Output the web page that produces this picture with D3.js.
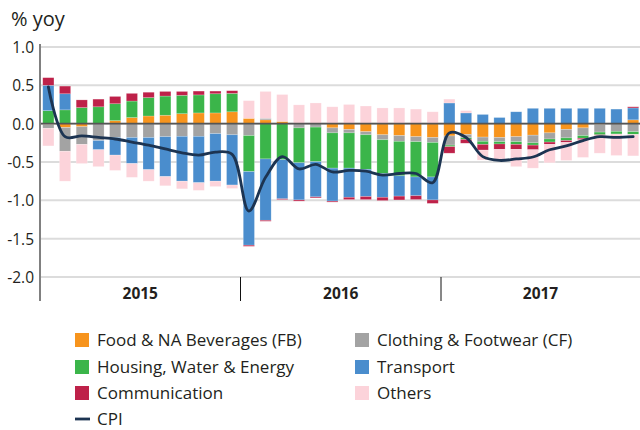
<!DOCTYPE html>
<html>
<head>
<meta charset="utf-8">
<script src="https://cdn.jsdelivr.net/npm/d3@7"></script>
<style>
  html, body { margin: 0; padding: 0; background: #fff; }
  svg { display: block; font-family: "Open Sans", "Noto Sans", sans-serif; }
</style>
</head>
<body>
<svg id="chart" width="640" height="430"></svg>
<script>
// ---------- data ----------
const years = ["2015", "2016", "2017"];
const months = [];
years.forEach(y => { for (let m = 1; m <= 12; m++) months.push(y + "-" + String(m).padStart(2, "0")); });

const seriesKeys = ["FB", "CF", "HWE", "TR", "COM", "OTH"];
const seriesLabels = ["Food & NA Beverages (FB)", "Clothing & Footwear (CF)", "Housing, Water & Energy", "Transport", "Communication", "Others"];

const fb  = [-0.01,-0.05,-0.04,0,0.04,0.08,0.10,0.11,0.13,0.14,0.14,0.155,
             0.07,0.05,0.03,0,0,-0.055,-0.075,-0.105,-0.145,-0.155,-0.17,-0.18,
             -0.16,-0.14,-0.175,-0.18,-0.17,-0.15,-0.12,-0.075,-0.055,-0.01,0,0.05];
const cf  = [-0.05,-0.31,-0.23,-0.22,-0.18,-0.18,-0.18,-0.17,-0.165,-0.165,-0.13,-0.145,
             -0.155,0.02,0,-0.055,-0.045,-0.065,-0.045,-0.04,-0.065,-0.075,-0.065,-0.065,
             -0.12,-0.045,-0.055,-0.055,-0.065,-0.10,-0.08,-0.11,-0.10,-0.10,-0.10,-0.105];
const hwe = [0.17,0.18,0.21,0.22,0.22,0.215,0.24,0.25,0.24,0.235,0.25,0.24,
             -0.47,-0.46,-0.47,-0.455,-0.45,-0.46,-0.46,-0.45,-0.44,-0.45,-0.46,-0.45,
             -0.02,-0.02,-0.04,-0.03,-0.035,-0.03,-0.04,-0.035,-0.035,-0.035,-0.035,-0.035];
const tr  = [0.33,0.21,0,-0.12,-0.23,-0.34,-0.42,-0.52,-0.585,-0.605,-0.62,-0.655,
             -0.96,-0.80,-0.51,-0.485,-0.46,-0.43,-0.38,-0.355,-0.31,-0.265,-0.245,-0.30,
             0.27,0.14,0.12,0.08,0.155,0.20,0.20,0.20,0.20,0.20,0.19,0.155];
const com = [0.10,0.10,0.10,0.10,0.095,0.10,0.07,0.06,0.05,0.05,0.035,0.035,
             -0.015,-0.013,-0.01,-0.015,-0.013,-0.013,-0.03,-0.04,-0.043,-0.05,-0.05,-0.045,
             -0.085,-0.05,-0.075,-0.07,-0.065,-0.06,-0.03,-0.025,-0.02,-0.01,0,0.015];
const oth = [-0.23,-0.39,-0.25,-0.22,-0.20,-0.18,-0.15,-0.12,-0.10,-0.10,-0.07,-0.045,
             0.23,0.35,0.35,0.245,0.27,0.22,0.25,0.23,0.205,0.205,0.19,0.155,
             0.05,0.03,-0.13,-0.145,-0.225,-0.24,-0.24,-0.235,-0.23,-0.23,-0.28,-0.28];
const cpi = [0.48,-0.17,-0.16,-0.18,-0.20,-0.24,-0.28,-0.33,-0.38,-0.41,-0.37,-0.40,
             -1.14,-0.70,-0.43,-0.59,-0.53,-0.63,-0.61,-0.62,-0.67,-0.65,-0.65,-0.77,
             -0.12,-0.18,-0.43,-0.48,-0.46,-0.435,-0.34,-0.29,-0.22,-0.17,-0.18,-0.17];

const yTicks = [1.0, 0.5, 0.0, -0.5, -1.0, -1.5, -2.0];

const colors = { FB: "#f7941d", CF: "#a3a3a3", HWE: "#3bb54a", TR: "#4a8dcd", COM: "#be2149", OTH: "#fcd3da" };
const cpiColor = "#1c3452";

// ---------- build ----------
const seriesArrays = { FB: fb, CF: cf, HWE: hwe, TR: tr, COM: com, OTH: oth };
const table = months.map((m, i) => {
  const row = { month: m };
  seriesKeys.forEach(k => row[k] = seriesArrays[k][i]);
  return row;
});

const svg = d3.select("#chart");
const x = d3.scaleBand().domain(months).range([40, 641.5]).paddingInner(0.33).paddingOuter(0.165);
const y = d3.scaleLinear().domain([-2, 1]).range([277, 47]);

// gridlines
svg.append("g").selectAll("line").data(yTicks).join("line")
  .attr("x1", 40).attr("x2", 640)
  .attr("y1", d => y(d)).attr("y2", d => y(d))
  .attr("stroke", "#dcdcdc").attr("stroke-width", 2);

// bars
const stack = d3.stack().keys(seriesKeys).offset(d3.stackOffsetDiverging);
const stacked = stack(table);
svg.append("g").selectAll("g").data(stacked).join("g")
  .attr("fill", d => colors[d.key])
  .selectAll("rect").data(d => d).join("rect")
  .attr("x", d => x(d.data.month))
  .attr("width", x.bandwidth())
  .attr("y", d => y(Math.max(d[0], d[1])))
  .attr("height", d => Math.abs(y(d[0]) - y(d[1])))
  .attr("stroke", "#fff").attr("stroke-opacity", 0.35).attr("stroke-width", 0.6);

// zero line
svg.append("line").attr("x1", 40).attr("x2", 640).attr("y1", y(0)).attr("y2", y(0))
  .attr("stroke", "#555").attr("stroke-width", 1.6);

// y axis line
svg.append("line").attr("x1", 40).attr("x2", 40).attr("y1", 44).attr("y2", 301)
  .attr("stroke", "#808080").attr("stroke-width", 2);

// y axis labels
const yAxis = d3.axisLeft(y).tickValues(yTicks).tickSize(0).tickPadding(0).tickFormat(d => d.toFixed(1));
const gy = svg.append("g").attr("transform", "translate(34,0)").call(yAxis);
gy.select(".domain").remove();
gy.selectAll("text").attr("font-size", 15.5).attr("fill", "#231f20")
  .attr("font-family", "'Open Sans', sans-serif").attr("dy", "0.36em");

// year separators & labels
const step = x.step();
years.forEach((yr, i) => {
  const first = x(yr + "-01");
  const last = x(yr + "-12") + x.bandwidth();
  const left = first - step * x.paddingInner() / 2;
  const right = last + step * x.paddingInner() / 2;
  if (i > 0) {
    svg.append("line").attr("x1", left).attr("x2", left).attr("y1", 277).attr("y2", 301)
      .attr("stroke", "#111").attr("stroke-width", 1);
  }
  svg.append("text").attr("x", (left + Math.min(right, 640)) / 2).attr("y", 299)
    .attr("text-anchor", "middle").attr("font-size", 15.5).attr("font-weight", "bold")
    .attr("fill", "#231f20").text(yr);
});

// CPI line
const line = d3.line()
  .x((d, i) => x(months[i]) + x.bandwidth() / 2)
  .y(d => y(d))
  .curve(d3.curveCatmullRom.alpha(0.5));
svg.append("path").datum(cpi).attr("d", line)
  .attr("fill", "none").attr("stroke", cpiColor).attr("stroke-width", 2.8)
  .attr("stroke-linejoin", "round").attr("stroke-linecap", "round");

// y title
svg.append("text").attr("x", 11).attr("y", 26).attr("font-size", 20).attr("fill", "#231f20").text("% yoy");

// legend
const legendItems = [
  { key: "FB", col: 0, row: 0 }, { key: "CF", col: 1, row: 0 },
  { key: "HWE", col: 0, row: 1 }, { key: "TR", col: 1, row: 1 },
  { key: "COM", col: 0, row: 2 }, { key: "OTH", col: 1, row: 2 }
];
const colX = [75, 355];
const rowY = [340, 367, 393, 419];
const lg = svg.append("g");
legendItems.forEach(it => {
  const label = seriesLabels[seriesKeys.indexOf(it.key)];
  lg.append("rect").attr("x", colX[it.col]).attr("y", rowY[it.row] - 7)
    .attr("width", 14).attr("height", 14).attr("fill", colors[it.key]);
  lg.append("text").attr("x", colX[it.col] + 22).attr("y", rowY[it.row])
    .attr("dy", "0.35em").attr("font-size", 17).attr("fill", "#231f20").text(label);
});
lg.append("line").attr("x1", 75).attr("x2", 90).attr("y1", rowY[3]).attr("y2", rowY[3])
  .attr("stroke", cpiColor).attr("stroke-width", 2.8);
lg.append("text").attr("x", 97).attr("y", rowY[3]).attr("dy", "0.35em")
  .attr("font-size", 17).attr("fill", "#231f20").text("CPI");
</script>
</body>
</html>
